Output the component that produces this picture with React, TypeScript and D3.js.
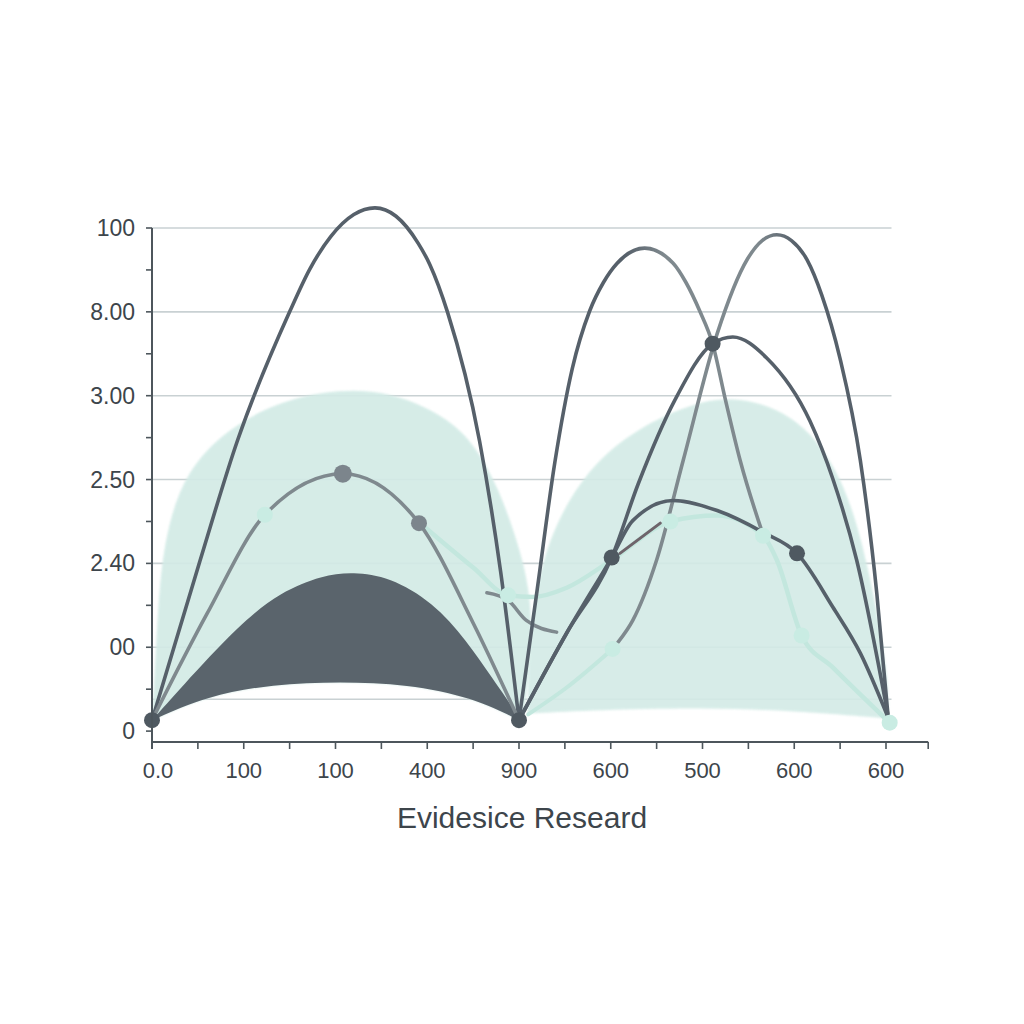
import React from "react";
import * as d3 from "d3";

type P = [number, number];

// ---- Data (category index, value) ----
const xLabels = ["0.0", "100", "100", "400", "900", "600", "500", "600", "600"];
const yLabels = ["0", "00", "2.40", "2.50", "3.00", "8.00", "100"];
const gridValues = [0.38, 1, 2, 3, 4, 5, 6];
const xTitle = "Evidesice Researd";

const leftTealTop: P[] = [[0, 0.13], [0.04, 0.9], [0.08, 1.8], [0.18, 2.5], [0.38, 3.1], [0.8, 3.6], [1.5, 4.0], [2.43, 4.12], [3.14, 3.8], [3.5, 3.46], [3.79, 2.87], [3.98, 2.27], [4.12, 1.71], [4.15, 0.96], [4.05, 0.2]];
const rightTealTop: P[] = [[4.09, 0.21], [4.12, 1.3], [4.3, 2.3], [4.75, 3.15], [5.3, 3.62], [5.9, 3.92], [6.41, 4.0], [7.06, 3.75], [7.53, 3.05], [7.8, 2.04], [8.04, 0.6], [8.02, 0.15]];
const rightTealBottom: P[] = [[4.09, 0.21], [4.88, 0.25], [5.97, 0.28], [7.06, 0.24], [8.02, 0.15]];
const darkTop: P[] = [[0, 0.13], [0.3, 0.5], [0.96, 1.28], [1.4, 1.66], [1.86, 1.86], [2.19, 1.9], [2.59, 1.84], [3.06, 1.54], [3.43, 1.08], [3.72, 0.61], [3.93, 0.29], [4.0, 0.13]];
const darkBottom: P[] = [[0, 0.13], [0.6, 0.42], [1.32, 0.56], [2.05, 0.59], [2.78, 0.56], [3.5, 0.4], [4.0, 0.13]];

const archLeft: P[] = [[0, 0.13], [0.52, 2.02], [0.93, 3.46], [1.5, 5.0], [1.72, 5.51], [1.95, 5.9], [2.2, 6.16], [2.43, 6.24], [2.66, 6.14], [2.9, 5.82], [3.03, 5.56], [3.22, 5.0], [3.57, 3.46], [3.8, 1.9], [4.0, 0.13]];
const grayLeft: P[] = [[0, 0.13], [0.6, 1.4], [1.23, 2.58], [2.08, 3.07], [2.91, 2.48], [3.5, 1.29], [4.0, 0.13]];
const grayDip: P[] = [[3.65, 1.65], [3.88, 1.56], [4.08, 1.32], [4.41, 1.18]];
const tealLine: P[] = [[2.91, 2.49], [3.5, 1.95], [3.88, 1.62], [4.15, 1.6], [4.52, 1.71], [5.01, 2.04], [5.65, 2.5], [6.16, 2.57], [6.66, 2.33], [6.81, 2.04], [7.08, 1.14], [7.42, 0.76], [8.04, 0.1]];
const tealLow: P[] = [[4.1, 0.2], [4.52, 0.52], [5.02, 0.98]];
const archA: P[] = [[4.0, 0.13], [4.2, 1.7], [4.39, 3.2], [4.58, 4.32], [4.77, 5.01], [4.92, 5.35], [5.07, 5.58], [5.37, 5.76], [5.68, 5.58], [5.82, 5.35], [5.97, 5.01], [6.11, 4.62], [6.25, 3.95], [6.41, 3.23], [6.67, 2.31]];
const archB: P[] = [[5.08, 1.06], [5.24, 1.32], [5.5, 2.04], [5.79, 3.23], [6.16, 4.74], [6.49, 5.63], [6.65, 5.85], [6.81, 5.92], [6.97, 5.85], [7.14, 5.62], [7.3, 5.2], [7.5, 4.44], [7.72, 3.23], [7.9, 1.64], [8.02, 0.21]];
const archC: P[] = [[4.0, 0.13], [4.52, 1.17], [5.01, 2.07], [5.3, 2.95], [5.7, 3.95], [6.11, 4.62], [6.33, 4.7], [6.7, 4.45], [7.17, 3.7], [7.42, 3.01], [7.68, 2.04], [8.02, 0.2]];
const curveD: P[] = [[4.0, 0.13], [4.52, 1.17], [5.01, 2.07], [5.24, 2.51], [5.68, 2.75], [6.16, 2.63], [6.66, 2.37], [7.03, 2.12], [7.42, 1.48], [7.72, 0.93], [8.02, 0.17]];
const mauveBit: P[] = [[5.1, 2.12], [5.54, 2.48]];

const darkDots: P[] = [[0, 0.13], [4.0, 0.13], [5.01, 2.07], [6.11, 4.62], [7.03, 2.12]];
const grayDots: P[] = [[2.08, 3.07], [2.91, 2.48]];
const tealDots: P[] = [[8.04, 0.1], [1.23, 2.58], [3.88, 1.62], [5.65, 2.5], [6.66, 2.33], [7.08, 1.14], [5.02, 0.98]];

// ---- Styles ----
const DARK = "#56606a";
const GRAY = "#7f898e";
const TEAL = "#c3e7de";
const TEAL_FILL = "#d3ebe6";
const AXIS = "#4d565c";
const TEXT = "#3d454b";
const FONT = "'Liberation Sans', Arial, Helvetica, sans-serif";

export default function App() {
  const x = d3.scaleLinear().domain([0, 8]).range([152, 886]);
  const y = d3.scaleLinear().domain([-0.13, 6]).range([742, 228]);
  const line = d3
    .line<P>()
    .x((d) => x(d[0]))
    .y((d) => y(d[1]))
    .curve(d3.curveMonotoneX);
  const soft = d3
    .line<P>()
    .x((d) => x(d[0]))
    .y((d) => y(d[1]))
    .curve(d3.curveBasis);
  const shape = (top: P[], bottom: P[]) =>
    (soft(top) || "") + (soft([...bottom].reverse()) || "").replace(/^M/, "L") + "Z";

  const majorX = d3.range(0, 8.01, 1);
  const minorX = d3.range(0, 8.01, 0.5);
  const minorY = d3.range(0, 6.01, 0.5);

  const peakA = x(5.37);
  const peakB = x(6.81);

  return (
    <svg
      width={1024}
      height={1024}
      style={{ position: "absolute", left: 0, top: 0, background: "#fff" }}
      fontFamily={FONT}
    >
      <defs>
        <filter id="soft" x="-5%" y="-5%" width="110%" height="110%">
          <feGaussianBlur stdDeviation="1.2" />
        </filter>
        <linearGradient id="gA" gradientUnits="userSpaceOnUse" x1={peakA - 20} x2={peakA + 20} y1={0} y2={0}>
          <stop offset="0" stopColor={DARK} />
          <stop offset="1" stopColor={GRAY} />
        </linearGradient>
        <linearGradient id="gB" gradientUnits="userSpaceOnUse" x1={peakB - 20} x2={peakB + 20} y1={0} y2={0}>
          <stop offset="0" stopColor={GRAY} />
          <stop offset="1" stopColor={DARK} />
        </linearGradient>
      </defs>
      <rect width={1024} height={1024} fill="#fff" />

      {/* grid */}
      {gridValues.map((v) => (
        <line key={v} x1={x(0)} x2={x(8.06)} y1={y(v)} y2={y(v)} stroke="#c9d1d3" strokeWidth={1.6} />
      ))}

      {/* light areas */}
      <path d={shape(leftTealTop, darkBottom)} fill={TEAL_FILL} opacity={0.92} filter="url(#soft)" />
      <path d={shape(rightTealTop, rightTealBottom)} fill={TEAL_FILL} opacity={0.9} filter="url(#soft)" />
      {/* dark band */}
      <path d={shape(darkTop, darkBottom)} fill="#5a646c" />

      {/* lines */}
      <g fill="none" strokeLinecap="round" strokeLinejoin="round">
        <path d={line(tealLow) || ""} stroke={TEAL} strokeWidth={4} />
        <path d={line(grayDip) || ""} stroke={GRAY} strokeWidth={3.5} />
        <path d={line(tealLine) || ""} stroke={TEAL} strokeWidth={4.5} />
        <path d={line(archLeft) || ""} stroke={DARK} strokeWidth={3.6} />
        <path d={line(grayLeft) || ""} stroke={GRAY} strokeWidth={3.6} />
        <path d={line(archA) || ""} stroke="url(#gA)" strokeWidth={3.6} />
        <path d={line(archB) || ""} stroke="url(#gB)" strokeWidth={3.6} />
        <path d={line(archC) || ""} stroke={DARK} strokeWidth={3.6} />
        <path d={line(curveD) || ""} stroke={DARK} strokeWidth={3.6} />
        <path d={line(mauveBit) || ""} stroke="#6e646b" strokeWidth={3} />
      </g>

      {/* dots */}
      {tealDots.map((d, i) => (
        <circle key={"t" + i} cx={x(d[0])} cy={y(d[1])} r={8} fill="#c9ece3" />
      ))}
      {grayDots.map((d, i) => (
        <circle key={"g" + i} cx={x(d[0])} cy={y(d[1])} r={i === 0 ? 9 : 8} fill="#7c858c" />
      ))}
      {darkDots.map((d, i) => (
        <circle key={"d" + i} cx={x(d[0])} cy={y(d[1])} r={8} fill="#4f5961" />
      ))}

      {/* axes */}
      <line x1={x(0)} x2={x(0)} y1={y(6)} y2={749} stroke={AXIS} strokeWidth={2} />
      <line x1={x(0)} x2={x(8.46)} y1={742} y2={742} stroke={AXIS} strokeWidth={2} />
      {minorY.map((v) => (
        <line key={"yt" + v} x1={x(0) - 6} x2={x(0)} y1={y(v)} y2={y(v)} stroke={AXIS} strokeWidth={1.6} />
      ))}
      {minorX.concat([8.46]).map((v) => (
        <line key={"xt" + v} x1={x(v)} x2={x(v)} y1={742} y2={749} stroke={AXIS} strokeWidth={1.6} />
      ))}

      {yLabels.map((t, i) => (
        <text key={"yl" + i} x={135} y={y(i) + 8} textAnchor="end" fontSize={23} fill={TEXT}>
          {t}
        </text>
      ))}
      {xLabels.map((t, i) => (
        <text key={"xl" + i} x={x(majorX[i]) + (i === 0 ? 6 : 0)} y={778} textAnchor="middle" fontSize={22} fill={TEXT}>
          {t}
        </text>
      ))}
      <text x={522} y={828} textAnchor="middle" fontSize={30} fill={TEXT}>
        {xTitle}
      </text>
    </svg>
  );
}
